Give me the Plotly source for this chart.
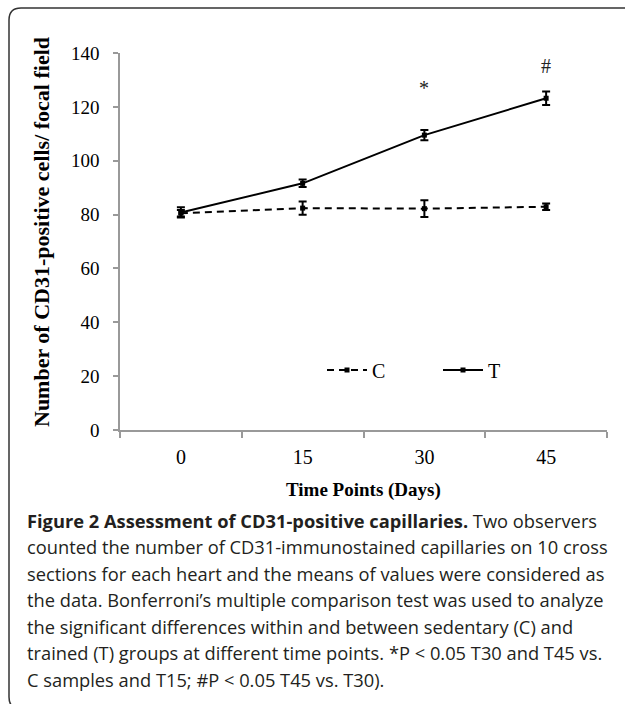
import plotly.graph_objects as go

days = ["0", "15", "30", "45"]
c_mean = [80.5, 82.4, 82.2, 82.9]
c_err = [1.2, 2.5, 3.1, 1.2]
t_mean = [80.8, 91.6, 109.5, 123.2]
t_err = [1.9, 1.4, 1.9, 2.5]
sig_labels = ["*", "#"]
sig_days = ["30", "45"]
sig_y = [127, 135]
y_ticks = [0, 20, 40, 60, 80, 100, 120, 140]

caption_lines = [
    "<b>Figure 2 Assessment of CD31-positive capillaries.</b> Two observers",
    "counted the number of CD31-immunostained capillaries on 10 cross",
    "sections for each heart and the means of values were considered as",
    "the data. Bonferroni\u2019s multiple comparison test was used to analyze",
    "the significant differences within and between sedentary (C) and",
    "trained (T) groups at different time points. *P < 0.05 T30 and T45 vs.",
    "C samples and T15; #P < 0.05 T45 vs. T30).",
]

W, H = 625, 704
L, R, T, B = 120, 18, 53, 274
pw, ph = W - L - R, H - T - B


def px(x):
    return (x - L) / pw


def py(y):
    return (H - B - y) / ph


serif = "Liberation Serif, Times New Roman, serif"

fig = go.Figure()
fig.add_trace(go.Scatter(
    x=days, y=c_mean, name="C", mode="lines+markers", legend="legend",
    line=dict(color="black", width=2, dash="7px,5px"),
    marker=dict(symbol="square", size=5, color="black"),
    error_y=dict(type="data", array=c_err, color="black", thickness=2, width=4),
))
fig.add_trace(go.Scatter(
    x=days, y=t_mean, name="T", mode="lines+markers", legend="legend2",
    line=dict(color="black", width=2),
    marker=dict(symbol="square", size=5, color="black"),
    error_y=dict(type="data", array=t_err, color="black", thickness=2, width=4),
))

for lab, d, yv in zip(sig_labels, sig_days, sig_y):
    fig.add_annotation(x=days.index(d), y=yv, text=lab, showarrow=False,
                       xanchor="center", yanchor="middle",
                       font=dict(family=serif, size=20, color="#222"))

for i, line in enumerate(caption_lines):
    fig.add_annotation(xref="paper", yref="paper", x=px(25), y=py(520 + i * 26.5),
                       xanchor="left", yanchor="middle", text=line, showarrow=False,
                       font=dict(family="Open Sans, sans-serif", size=18.3, color="#231f20"))

fig.add_annotation(xref="paper", yref="paper", x=px(363), y=py(490), text="<b>Time Points (Days)</b>",
                   showarrow=False, xanchor="center", yanchor="middle",
                   font=dict(family=serif, size=19, color="black"))
fig.add_annotation(xref="paper", yref="paper", x=px(41), y=py(232),
                   text="<b>Number of CD31-positive cells/ focal field</b>", textangle=-90,
                   showarrow=False, xanchor="center", yanchor="middle",
                   font=dict(family=serif, size=22, color="black"))

# rounded border
x0, x1 = px(9), px(640)
y0, y1 = py(8), py(709)
rx, ry = 12 / pw, 12 / ph
path = (f"M {x1},{y0} L {x0+rx},{y0} Q {x0},{y0} {x0},{y0-ry} "
        f"L {x0},{y1+ry} Q {x0},{y1} {x0+rx},{y1} L {x1},{y1}")
fig.add_shape(type="path", xref="paper", yref="paper", path=path,
              line=dict(color="#333", width=1.5))

legend_common = dict(orientation="h", xanchor="left", yanchor="middle",
                     font=dict(family=serif, size=20, color="black"),
                     itemwidth=40, bgcolor="rgba(0,0,0,0)")

fig.update_layout(
    width=W, height=H, autosize=False,
    margin=dict(l=L, r=R, t=T, b=B, pad=0),
    paper_bgcolor="white", plot_bgcolor="white",
    showlegend=True,
    legend=dict(x=px(322), y=py(370), **legend_common),
    legend2=dict(x=px(438), y=py(370), **legend_common),
    xaxis=dict(type="category", range=[-0.5, 3.5], tickson="boundaries",
               showline=True, linecolor="#999", linewidth=1.5,
               ticks="outside", ticklen=6, tickcolor="#999", tickwidth=1.5,
               showgrid=False, zeroline=False, ticklabelstandoff=8,
               tickfont=dict(family=serif, size=20, color="black")),
    yaxis=dict(range=[0, 140], tickvals=y_ticks,
               showline=True, linecolor="#999", linewidth=1.5,
               ticks="outside", ticklen=5, tickcolor="#999", tickwidth=1.5,
               showgrid=False, zeroline=False, ticklabelstandoff=10,
               tickfont=dict(family=serif, size=19, color="black")),
)

fig.write_html("out.html", config={"displayModeBar": False},
               post_script="document.body.style.margin='0';document.body.style.overflow='hidden';")
